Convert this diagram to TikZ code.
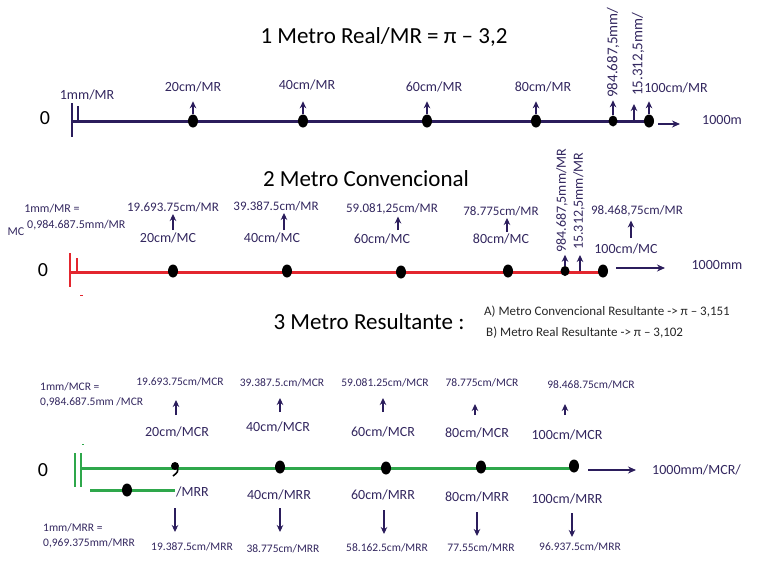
\documentclass[tikz,border=0pt]{standalone}
\usepackage{fontspec}
\setmainfont{Carlito}
\usetikzlibrary{shapes.geometric, arrows.meta}
\definecolor{navy}{HTML}{2B1D5C}
\definecolor{labelblue}{HTML}{33275F}
\definecolor{rulered}{HTML}{E3262E}
\definecolor{rulegreen}{HTML}{2EA74B}
\begin{document}
\begin{tikzpicture}[x = 1pt, y = -1pt,
        title/.style = {font = \fontsize{23}{26}\selectfont, inner sep = 0pt},
        zero/.style = {font = \fontsize{20}{22}\selectfont, inner sep = 0pt},
        lbl/.style = {font = \fontsize{14}{16}\selectfont, text = labelblue, inner sep = 0pt},
        num/.style = {font = \fontsize{13}{15}\selectfont, text = labelblue, inner sep = 0pt},
        numsm/.style = {font = \fontsize{11.5}{13}\selectfont, text = labelblue, inner sep = 0pt},
        vert/.style = {rotate = 90, anchor = west},
        dot/.style = {ellipse, fill = black, minimum width = 10pt, minimum height = 13pt, inner sep = 0pt},
        arr/.style = {-{Stealth[length = 7pt, width = 6.5pt]}, navy, line width = 1.1pt},
        longarr/.style = {-{Stealth[length = 8pt, width = 7pt]}, navy, line width = 1.1pt}
    ]
    \useasboundingbox (0, 0) rectangle (768, 573);

    % 1 Metro Real
    \node [title] (T1) at (384, 37) {1 Metro Real/MR = π – 3,2};
    \node [zero] (Z1) at (45, 118) {0};
    \draw [navy, line width = 3pt] (72, 121) -- (649, 121);
    \draw [navy, line width = 2.5pt] (72, 103) -- (72, 137) (78, 106) -- (78, 121);
    \path
        (193, 121) node [dot] (R20) {}
        (303, 121) node [dot] (R40) {}
        (427, 121) node [dot] (R60) {}
        (536, 121) node [dot] (R80) {}
        (613, 121) node [dot, minimum width = 9pt, minimum height = 11pt] (R98) {}
        (649, 121) node [dot] (R100) {}
        (634, 121) coordinate (R15)
        (658, 124) coordinate (E1);
    \node [lbl] (L1mm) at (87, 95) {1mm/MR};
    \node [lbl] (L20) at (193, 87) {20cm/MR};
    \node [lbl] (L40) at (307, 85) {40cm/MR};
    \node [lbl] (L60) at (434, 87) {60cm/MR};
    \node [lbl] (L80) at (543, 87) {80cm/MR};
    \node [lbl] (L100) at (676, 88) {100cm/MR};
    \node [lbl, vert, font = \fontsize{15}{17}\selectfont] (L98) at (613, 98) {984.687,5mm/};
    \node [lbl, vert, font = \fontsize{15}{17}\selectfont] (L15) at (638, 96) {15.312,5mm/};
    \node [lbl] (K1) at (722, 120) {1000m};
    \foreach \d in {R20, R40, R60, R80, R100}
        \draw [arr] (\d.north) -- ++(0, -13);
    \draw [arr] (R98.north) -- ++(0, -15);
    \draw [arr] (R15) -- ++(0, -17);
    \draw [longarr] (E1) -- ++(22, 0);

    % 2 Metro Convencional
    \node [title] (T2) at (366, 179) {2 Metro Convencional};
    \node [zero] (Z2) at (43, 270) {0};
    \draw [rulered, line width = 3pt] (70, 272) -- (603, 272);
    \draw [rulered, line width = 2.5pt] (70, 253) -- (70, 287) (77, 258) -- (77, 272);
    \draw [rulered, line width = 1pt] (80, 295) -- (83, 295);
    \path
        (173, 271) node [dot] (C20) {}
        (287, 271) node [dot] (C40) {}
        (401, 272) node [dot] (C60) {}
        (508, 271) node [dot] (C80) {}
        (565, 271) node [dot, minimum width = 9pt, minimum height = 10pt] (C98) {}
        (603, 271) node [dot] (C100) {}
        (580, 271) coordinate (C15)
        (616, 268) coordinate (E2);
    \node [num, font = \fontsize{12}{14}\selectfont] (M1a) at (52, 209) {1mm/MR =};
    \node [num, font = \fontsize{12}{14}\selectfont, anchor = west] (M1b) at (27, 225) {0,984.687.5mm/MR};
    \node [num, font = \fontsize{12}{14}\selectfont] (M1c) at (16, 232) {MC};
    \node [num] (U20) at (173, 207) {19.693.75cm/MR};
    \node [num] (U40) at (276, 206) {39.387.5cm/MR};
    \node [num] (U60) at (392, 209) {59.081,25cm/MR};
    \node [num] (U80) at (501, 211) {78.775cm/MR};
    \node [num] (U100) at (637, 211) {98.468,75cm/MR};
    \node [lbl] (M20) at (168, 238) {20cm/MC};
    \node [lbl] (M40) at (272, 238) {40cm/MC};
    \node [lbl] (M60) at (382, 239) {60cm/MC};
    \node [lbl] (M80) at (501, 239) {80cm/MC};
    \node [lbl] (M100) at (626, 249) {100cm/MC};
    \node [lbl, vert] (M98) at (562, 253) {984.687,5mm/MR};
    \node [lbl, vert] (M15) at (579, 250) {15.312,5mm/MR};
    \node [lbl] (K2) at (717, 265) {1000mm};
    \path
        (173, 230) coordinate (A20)
        (284, 230) coordinate (A40)
        (398, 230) coordinate (A60)
        (507, 232) coordinate (A80)
        (631, 238) coordinate (A100);
    \draw [arr, shorten > = 2pt] (A20) -- (A20 |- U20.south);
    \draw [arr, shorten > = 2pt] (A40) -- (A40 |- U40.south);
    \draw [arr, shorten > = 2pt] (A60) -- (A60 |- U60.south);
    \draw [arr, shorten > = 2pt] (A80) -- (A80 |- U80.south);
    \draw [arr, shorten > = 4pt] (A100) -- (A100 |- U100.south);
    \draw [arr] (C98.north) -- ++(0, -11);
    \draw [arr] (C15) -- ++(0, -16);
    \draw [longarr] (E2) -- ++(49, 0);

    % 3 Metro Resultante
    \node [title] (T3) at (369, 322) {3 Metro Resultante :};
    \node [num, text = black!85, anchor = west] (NA) at (484, 312) {A) Metro Convencional Resultante -> π – 3,151};
    \node [num, text = black!85, anchor = west] (NB) at (486, 333) {B) Metro Real Resultante -> π – 3,102};
    \node [numsm, anchor = west] (S1a) at (40, 387) {1mm/MCR =};
    \node [numsm, anchor = west] (S1b) at (40, 402) {0,984.687.5mm /MCR};
    \node [numsm] (S20) at (180, 382) {19.693.75cm/MCR};
    \node [numsm] (S40) at (282, 383) {39.387.5.cm/MCR};
    \node [numsm] (S60) at (385, 383) {59.081.25cm/MCR};
    \node [numsm] (S80) at (482, 383) {78.775cm/MCR};
    \node [numsm] (S100) at (591, 385) {98.468.75cm/MCR};
    \node [lbl] (P20) at (177, 432) {20cm/MCR};
    \node [lbl] (P40) at (278, 427) {40cm/MCR};
    \node [lbl] (P60) at (383, 432) {60cm/MCR};
    \node [lbl] (P80) at (477, 433) {80cm/MCR};
    \node [lbl] (P100) at (567, 435) {100cm/MCR};
    \path
        (176, 415) coordinate (B20)
        (280, 412) coordinate (B40)
        (383, 412) coordinate (B60)
        (475, 415) coordinate (B80)
        (565, 415) coordinate (B100);
    \foreach \b/\h in {B20/15, B40/14, B60/14, B80/11, B100/11}
        \draw [arr] (\b) -- ++(0, -\h);

    \node [zero] (Z3) at (43, 470) {0};
    \draw [rulegreen, line width = 3pt] (80, 468) -- (574, 468);
    \draw [rulegreen, line width = 2.5pt] (75, 453) -- (75, 487) (81, 453) -- (81, 487);
    \draw [rulegreen, line width = 1pt] (82, 444) -- (84, 444);
    \draw [rulegreen, line width = 3pt] (90, 490) -- (175, 490);
    \fill (175, 466) circle (4);
    \draw [line width = 1.6pt] (177.5, 467) .. controls (178, 472) .. (173, 476);
    \path
        (280, 467) node [dot] (G40) {}
        (386, 468) node [dot] (G60) {}
        (481, 467) node [dot] (G80) {}
        (574, 466) node [dot] (G100) {}
        (127, 490) node [dot] (G10) {}
        (588, 470) coordinate (E3);
    \node [lbl, anchor = west] (Q20) at (176, 492) {/MRR};
    \node [lbl] (Q40) at (279, 495) {40cm/MRR};
    \node [lbl] (Q60) at (383, 495) {60cm/MRR};
    \node [lbl] (Q80) at (477, 497) {80cm/MRR};
    \node [lbl] (Q100) at (567, 499) {100cm/MRR};
    \node [numsm, anchor = west] (D1a) at (43, 528) {1mm/MRR =};
    \node [numsm, anchor = west] (D1b) at (43, 543) {0,969.375mm/MRR};
    \node [numsm] (D20) at (192, 547) {19.387.5cm/MRR};
    \node [numsm] (D40) at (283, 549) {38.775cm/MRR};
    \node [numsm] (D60) at (387, 548) {58.162.5cm/MRR};
    \node [numsm] (D80) at (481, 548) {77.55cm/MRR};
    \node [numsm] (D100) at (580, 547) {96.937.5cm/MRR};
    \node [lbl, anchor = west] (K3) at (652, 470) {1000mm/MCR/};
    \path
        (175, 508) coordinate (F20)
        (280, 508) coordinate (F40)
        (384, 510) coordinate (F60)
        (477, 512) coordinate (F80)
        (572, 513) coordinate (F100);
    \foreach \f in {F20, F40, F60, F80, F100}
        \draw [arr] (\f) -- ++(0, 24);
    \draw [longarr] (E3) -- ++(48, 0);
\end{tikzpicture}
\end{document}
